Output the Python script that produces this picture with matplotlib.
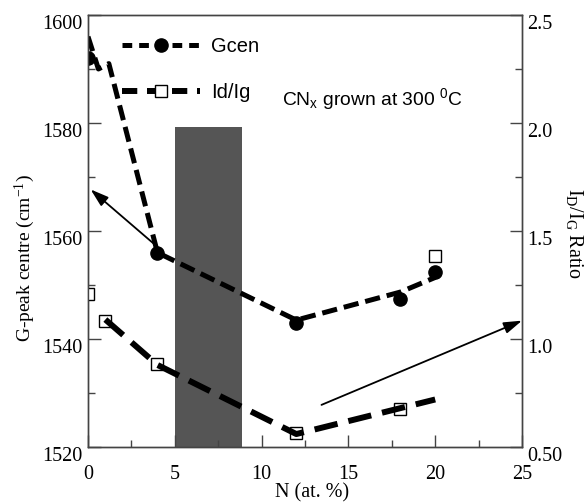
import matplotlib
matplotlib.use("Agg")
import matplotlib.pyplot as plt
from matplotlib.lines import Line2D
from matplotlib.transforms import ScaledTranslation

# ---- data ----
gcen_x = [0, 4, 12, 18, 20]
gcen_y = [1592, 1556, 1543, 1547.5, 1552.5]
gcen_line_x = [0, 0.6, 1.2, 4, 12, 18, 20]
gcen_line_y = [1596, 1590, 1591, 1556, 1543.5, 1548.7, 1551.4]

idig_x = [0, 1, 4, 12, 18, 20]
idig_y = [1.21, 1.085, 0.883, 0.563, 0.674, 1.384]
idig_line_x = [1, 4, 12, 20]
idig_line_y = [1.09, 0.88, 0.56, 0.72]

band_x0, band_x1, band_top = 5.0, 8.85, 1579.2

x_ticks = [0, 5, 10, 15, 20, 25]
left_ticks = [1520, 1540, 1560, 1580, 1600]
right_ticks = [0.5, 1.0, 1.5, 2.0, 2.5]
right_labels = ["0.50", "1.0", "1.5", "2.0", "2.5"]

plt.rcParams['lines.scale_dashes'] = False
plt.rcParams['mathtext.default'] = 'regular'
serif = 'Liberation Serif'
sans = 'Liberation Sans'
TICK_FS = 14.5

fig = plt.figure(figsize=(5.86, 5.04), dpi=100)
ax = fig.add_axes([88/586, 1 - 447/504, 434/586, 432/504])
ax2 = ax.twinx()

ax.set_xlim(0, 25)
ax.set_ylim(1520, 1600)
ax2.set_ylim(0.5, 2.5)

# gray band
ax.bar(band_x0, band_top - 1520, bottom=1520, width=band_x1 - band_x0,
       align='edge', color='#555555', zorder=1)

# Gcen
ax.plot(gcen_line_x, gcen_line_y, color='black', lw=3.6,
        linestyle=(0, (11, 5)), zorder=3, dash_capstyle='butt')
ax.plot(gcen_x, gcen_y, 'o', color='black', ms=9.5, zorder=4)

# Id/Ig (right axis)
ax2.plot(idig_x, idig_y, 's', mfc='white', mec='black', mew=1.0, ms=9, zorder=2)
ax2.plot(idig_line_x, idig_line_y, color='black', lw=4.3,
         linestyle=(0, (17, 8)), zorder=3, dash_capstyle='butt')

# arrows
ap = dict(arrowstyle='-|>,head_length=1.1,head_width=0.35',
          color='black', lw=1.3, shrinkA=0, shrinkB=0)
ax.annotate('', xy=(0.15, 1567.7), xytext=(3.95, 1557.2), arrowprops=ap)
ax.annotate('', xy=(25, 1543.4), xytext=(13.45, 1527.8),
            arrowprops=ap, annotation_clip=False)

# text
ax.text(11.2, 1583.3, r"CN$_x$ grown at 300 $^0$C", family=sans, fontsize=13.9,
        va='baseline', ha='left', zorder=5)

# legend
h1 = Line2D([], [], color='black', lw=3.6, linestyle=(0, (7, 5)), marker='o',
            ms=9.5, mfc='black', mec='black')
h2 = Line2D([], [], color='black', lw=4.3, linestyle=(0, (11, 7)), marker='s',
            ms=9, mfc='white', mec='black', mew=1.0)
leg = ax.legend([h1, h2], ['Gcen', 'Id/Ig'], loc='upper left',
                bbox_to_anchor=(0.078, 0.948), frameon=False, numpoints=1,
                handlelength=3.9, handletextpad=0.55, labelspacing=1.33,
                borderpad=0, borderaxespad=0,
                prop={'family': sans, 'size': 14.5})
leg.set_zorder(6)

# spines / ticks
for a in (ax, ax2):
    for s in a.spines.values():
        s.set_color('#444444')
        s.set_linewidth(1.0)

ax.set_xticks(x_ticks)
ax.set_xticks([2.5, 7.5, 12.5, 17.5, 22.5], minor=True)
ax.set_yticks(left_ticks)
ax.set_yticks([1530, 1550, 1570, 1590], minor=True)
ax2.set_yticks(right_ticks)
ax2.set_yticklabels(right_labels)
ax2.set_yticks([0.75, 1.25, 1.75, 2.25], minor=True)

ax.tick_params(axis='both', which='major', direction='in', length=9, width=1,
               color='#444444', labelsize=TICK_FS)
ax.tick_params(axis='both', which='minor', direction='in', length=5, width=1,
               color='#444444')
ax.tick_params(axis='x', which='major', pad=13)
ax.tick_params(axis='y', which='major', pad=4)
ax.tick_params(top=False, right=False, which='both')
ax2.tick_params(axis='y', which='major', direction='in', length=9, width=1,
                color='#444444', labelsize=TICK_FS, pad=4)
ax2.tick_params(axis='y', which='minor', direction='in', length=5, width=1,
                color='#444444')

for lab in ax.get_xticklabels() + ax.get_yticklabels() + ax2.get_yticklabels():
    lab.set_family(serif)

off = ScaledTranslation(0, -0.07, fig.dpi_scale_trans)
for lab in ax.get_yticklabels() + ax2.get_yticklabels():
    lab.set_transform(lab.get_transform() + off)

ax.set_xlabel("N (at. %)", family=serif, fontsize=14.5)
ax.xaxis.set_label_coords(0.516, -0.084)
ax.set_ylabel(r"G-peak centre (cm$^{-1}$)", family=serif, fontsize=14)
ax.yaxis.set_label_coords(-0.118, 0.4375)
ax2.text(1.122, 0.494, r"I$_D$/I$_G$ Ratio", transform=ax2.transAxes,
         rotation=270, ha='center', va='center', family=serif, fontsize=14.5)

fig.savefig("out.png", dpi=100)
